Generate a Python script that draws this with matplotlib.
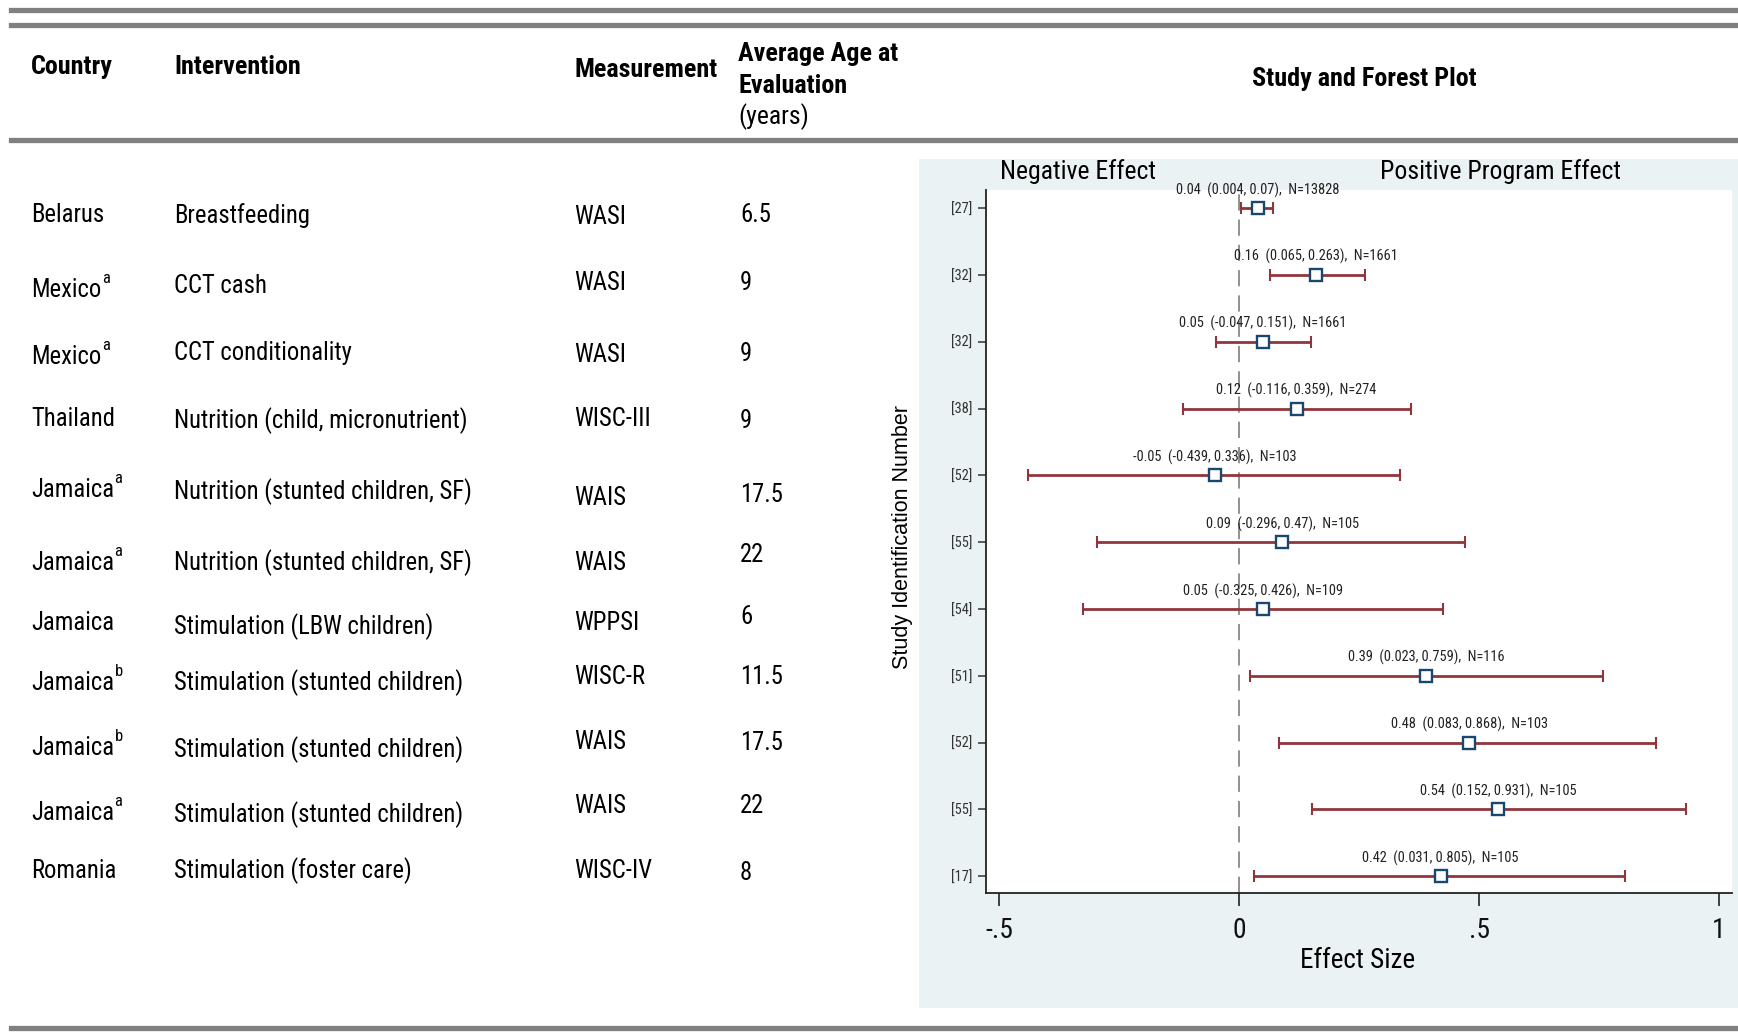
import matplotlib
matplotlib.use('Agg')
import matplotlib.pyplot as plt
from matplotlib import font_manager
from matplotlib.lines import Line2D
from matplotlib.patches import Rectangle

# table data
countries = ['Belarus', 'Mexico', 'Mexico', 'Thailand', 'Jamaica', 'Jamaica',
             'Jamaica', 'Jamaica', 'Jamaica', 'Jamaica', 'Romania']
notes = ['', 'a', 'a', '', 'a', 'a', '', 'b', 'b', 'a', '']
interventions = ['Breastfeeding', 'CCT cash', 'CCT conditionality',
                 'Nutrition (child, micronutrient)', 'Nutrition (stunted children, SF)',
                 'Nutrition (stunted children, SF)', 'Stimulation (LBW children)',
                 'Stimulation (stunted children)', 'Stimulation (stunted children)',
                 'Stimulation (stunted children)', 'Stimulation (foster care)']
measurements = ['WASI', 'WASI', 'WASI', 'WISC-III', 'WAIS', 'WAIS', 'WPPSI',
                'WISC-R', 'WAIS', 'WAIS', 'WISC-IV']
ages = ['6.5', '9', '9', '9', '17.5', '22', '6', '11.5', '17.5', '22', '8']

# forest plot data
study_ids = ['[27]', '[32]', '[32]', '[38]', '[52]', '[55]', '[54]', '[51]', '[52]', '[55]', '[17]']
effects = [0.04, 0.16, 0.05, 0.12, -0.05, 0.09, 0.05, 0.39, 0.48, 0.54, 0.42]
ci_low = [0.004, 0.065, -0.047, -0.116, -0.439, -0.296, -0.325, 0.023, 0.083, 0.152, 0.031]
ci_high = [0.07, 0.263, 0.151, 0.359, 0.336, 0.47, 0.426, 0.759, 0.868, 0.931, 0.805]
sample_n = [13828, 1661, 1661, 274, 103, 105, 109, 116, 103, 105, 105]

W, H = 1738, 1034
REGULAR = ['Liberation Sans', 'DejaVu Sans']

# narrow face if one is installed, otherwise Arial-metric font at a smaller size
installed = {f.name for f in font_manager.fontManager.ttflist}
if 'Liberation Sans Narrow' in installed:
    NARROW, K = ['Liberation Sans Narrow', 'DejaVu Sans'], 1.0
elif 'Roboto Condensed' in installed:
    NARROW, K = ['Roboto Condensed', 'DejaVu Sans'], 0.95
else:
    NARROW, K = REGULAR, 0.84

# layout of table cells (pixel rows, slightly ragged as in the original)
country_y = [215, 290, 357, 419, 490, 563, 623, 683, 748, 813, 871]
interv_y = [216, 286, 353, 421, 492, 563, 627, 683, 750, 815, 871]
meas_y = [217, 283, 355, 419, 498, 563, 623, 677, 742, 806, 871]
age_y = [215, 283, 354, 421, 495, 555, 617, 677, 743, 806, 873]


def fx(px):
    return px / W


def fy(py):
    return 1 - py / H


def fs(size):
    return round(size * K, 1)


fig = plt.figure(figsize=(W / 100, H / 100), dpi=100)
fig.patch.set_facecolor('white')

# grey rules
for y in [9.5, 24.5, 140, 1028]:
    fig.add_artist(Line2D([fx(11), 1], [fy(y), fy(y)], color='#808080', lw=3.8))

# forest panel background
fig.add_artist(Rectangle((fx(919), fy(1008)), 1 - fx(919), fy(159) - fy(1008),
                         facecolor='#EAF2F3', edgecolor='none', zorder=0))

# forest plot axes
ax = fig.add_axes([fx(985.5), fy(893), fx(1732) - fx(985.5), fy(190) - fy(893)])
ax.set_facecolor('white')

# header
hdr = dict(fontsize=fs(19.8), fontweight='bold', family=NARROW, va='center')
fig.text(fx(31), fy(67), 'Country', **hdr)
fig.text(fx(174), fy(67), 'Intervention', **hdr)
fig.text(fx(574), fy(70), 'Measurement', **hdr)
fig.text(fx(738), fy(54), 'Average Age at', **hdr)
fig.text(fx(738), fy(86), 'Evaluation', **hdr)
fig.text(fx(738), fy(117), '(years)', fontsize=fs(19.5), family=NARROW, va='center')
fig.text(fx(1364), fy(79), 'Study and Forest Plot', ha='center', **hdr)

# table body
cell = dict(fontsize=fs(18.6), family=NARROW, va='center')
for i in range(len(countries)):
    t = fig.text(fx(31), fy(country_y[i]), countries[i], **cell)
    if notes[i]:
        ax.annotate(notes[i], xy=(1, 0.8), xycoords=t, xytext=(0.3, 0),
                    textcoords='offset points', fontsize=fs(12.5), family=NARROW,
                    va='baseline', ha='left', annotation_clip=False)
    fig.text(fx(174), fy(interv_y[i]), interventions[i], **cell)
    fig.text(fx(574), fy(meas_y[i]), measurements[i], **cell)
    fig.text(fx(740), fy(age_y[i]), ages[i], **cell)

# forest plot
rows = list(range(len(study_ids)))
xerr = [[e - l for e, l in zip(effects, ci_low)],
        [h - e for e, h in zip(effects, ci_high)]]
ax.axvline(0, color='#888888', lw=1.3, ls=(0, (9, 5)), zorder=1)
ax.errorbar(effects, rows, xerr=xerr, fmt='none', ecolor='#90353B',
            elinewidth=2.0, capsize=4.5, capthick=1.5, zorder=2)
ax.plot(effects, rows, 's', ms=8.5, mfc='white', mec='#1A476F', mew=1.7,
        ls='none', zorder=3)
for e, l, h, n, r in zip(effects, ci_low, ci_high, sample_n, rows):
    ax.annotate(f'{e:g}  ({l:g}, {h:g}),  N={n}', xy=(e, r), xytext=(0, 13),
                textcoords='offset points', ha='center', va='center',
                fontsize=fs(11), family=NARROW, color='#222222')

ax.set_xlim(-0.528, 1.027)
ax.set_ylim(10.25, -0.27)
ax.set_xticks([-0.5, 0, 0.5, 1], labels=['-.5', '0', '.5', '1'])
ax.set_yticks(rows, labels=study_ids)
ax.tick_params(axis='x', length=9, width=1.1, pad=8, labelsize=fs(21), colors='#111111')
ax.tick_params(axis='y', length=6, width=1.1, pad=3.5, labelsize=fs(11), colors='#333333')
for lab in ax.get_xticklabels() + ax.get_yticklabels():
    lab.set_family(NARROW)
for s in ['top', 'right']:
    ax.spines[s].set_visible(False)
for s in ['left', 'bottom']:
    ax.spines[s].set_color('#222222')
    ax.spines[s].set_linewidth(1.3)

fig.text(fx(1078), fy(172), 'Negative Effect', ha='center', va='center',
         fontsize=fs(19.5), family=NARROW)
fig.text(fx(1501), fy(172), 'Positive Program Effect', ha='center', va='center',
         fontsize=fs(19.5), family=NARROW)
fig.text(fx(1358), fy(961), 'Effect Size', ha='center', va='center',
         fontsize=fs(20.5), family=NARROW)
fig.text(fx(903), fy(537), 'Study Identification Number', rotation=90,
         ha='center', va='center', fontsize=15.5, family=REGULAR)

fig.savefig('out.png', dpi=100)
